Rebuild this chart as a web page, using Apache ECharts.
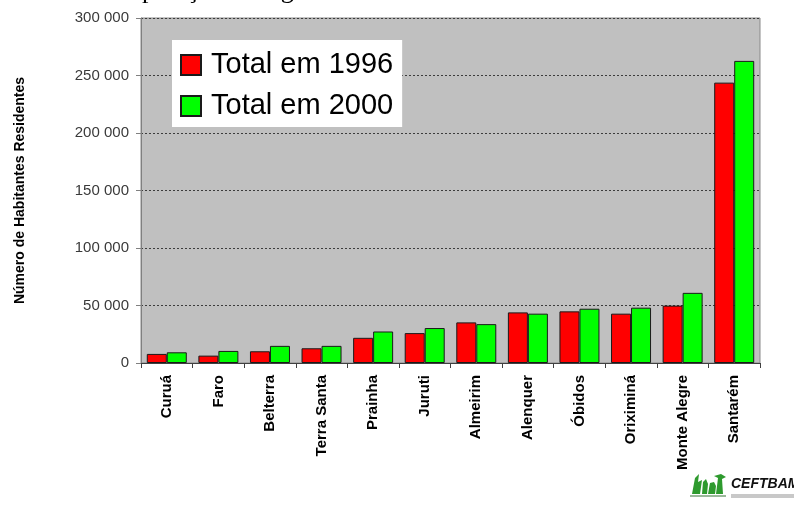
<!DOCTYPE html>
<html>
<head>
<meta charset="utf-8">
<script src="https://cdn.jsdelivr.net/npm/echarts@6/dist/echarts.min.js"></script>
<style>
  html, body { margin: 0; padding: 0; background: #ffffff; }
  #chart { width: 794px; height: 505px; }
</style>
</head>
<body>
<div id="chart"></div>
<script>
// Municípios da região, ordenados pela população
const categories = ['Curuá', 'Faro', 'Belterra', 'Terra Santa', 'Prainha', 'Juruti',
  'Almeirim', 'Alenquer', 'Óbidos', 'Oriximiná', 'Monte Alegre', 'Santarém'];

// Habitantes residentes
const total1996 = [7900, 6400, 10200, 12800, 21900, 26000, 35300, 44000, 44900, 42900, 49900, 243800];
const total2000 = [9300, 10500, 14900, 14900, 27400, 30400, 33800, 42900, 47200, 48100, 61000, 262700];

const seriesNames = ['Total em 1996', 'Total em 2000'];
const yAxisTitle = 'Número de Habitantes Residentes';
const chartTitle = 'Gráfico 3: População da região do Baixo Amazonas em 1996 e em 2000.';

const fmt = v => String(v).replace(/\B(?=(\d{3})+(?!\d))/g, ' ');

const chart = echarts.init(document.getElementById('chart'), null, { renderer: 'canvas' });

chart.setOption({
  animation: false,
  backgroundColor: '#ffffff',
  textStyle: { fontFamily: 'Liberation Sans, Arial, sans-serif' },
  grid: {
    left: 141, right: 34, top: 18, bottom: 142,
    show: true, backgroundColor: '#c0c0c0', borderColor: '#8a8a8a', borderWidth: 1
  },
  legend: {
    orient: 'vertical',
    left: 172, top: 40,
    backgroundColor: '#ffffff',
    padding: [10, 9, 6, 8],
    icon: 'rect',
    itemWidth: 20, itemHeight: 20, itemGap: 11,
    textStyle: { fontSize: 29, color: '#000000', lineHeight: 30, padding: [0, 0, 0, 5] },
    data: seriesNames
  },
  xAxis: {
    type: 'category',
    data: categories,
    axisLine: { lineStyle: { color: '#404040', width: 1 } },
    axisTick: { show: true, alignWithLabel: false, length: 5, lineStyle: { color: '#404040' } },
    axisLabel: {
      interval: 0, rotate: 90, margin: 12,
      fontSize: 15, fontWeight: 'bold', color: '#000000'
    }
  },
  yAxis: {
    type: 'value',
    min: 0, max: 300000, interval: 50000,
    name: yAxisTitle,
    nameLocation: 'middle',
    nameGap: 114,
    nameTextStyle: { fontSize: 14, fontWeight: 'bold', color: '#000000' },
    axisLine: { show: true, lineStyle: { color: '#808080' } },
    axisTick: { show: true, length: 5, lineStyle: { color: '#808080' } },
    axisLabel: { fontSize: 15, color: '#3a3a3a', margin: 12, formatter: fmt },
    splitLine: { show: true, lineStyle: { color: '#3c3c3c', type: [2, 2], width: 1 } }
  },
  series: [
    {
      name: seriesNames[0], type: 'bar', data: total1996,
      barWidth: 20, barGap: '0%',
      itemStyle: { color: '#ff0000', borderColor: '#1a1a1a', borderWidth: 1 }
    },
    {
      name: seriesNames[1], type: 'bar', data: total2000,
      barWidth: 20,
      itemStyle: { color: '#00ff00', borderColor: '#1a1a1a', borderWidth: 1 }
    }
  ],
  graphic: [
    {
      type: 'text', left: 2, top: -22,
      style: { text: chartTitle, font: '26px "Liberation Serif", "Times New Roman", serif', fill: '#000000' }
    },
    {
      type: 'group', left: 690, top: 474,
      children: [
        { type: 'polygon', shape: { points: [[2,20],[5,4],[9,0],[8,8],[12,6],[10,20]] }, style: { fill: '#2e9a2e' } },
        { type: 'polygon', shape: { points: [[12,20],[13,8],[16,5],[18,10],[17,20]] }, style: { fill: '#2e9a2e' } },
        { type: 'polygon', shape: { points: [[18,20],[20,9],[24,8],[26,12],[25,20]] }, style: { fill: '#2e9a2e' } },
        { type: 'polygon', shape: { points: [[26,20],[28,4],[24,2],[31,0],[36,3],[32,5],[33,20]] }, style: { fill: '#2e9a2e' } },
        { type: 'rect', shape: { x: 0, y: 21, width: 36, height: 2 }, style: { fill: '#9ab89a' } }
      ]
    },
    {
      type: 'text', left: 731, top: 477,
      style: { text: 'CEFTBAM', font: 'italic bold 14px "Liberation Sans", Arial, sans-serif', fill: '#111111' }
    },
    {
      type: 'rect', left: 731, top: 494, shape: { width: 63, height: 4 }, style: { fill: '#c8c8c8' }
    }
  ]
});
</script>
</body>
</html>
